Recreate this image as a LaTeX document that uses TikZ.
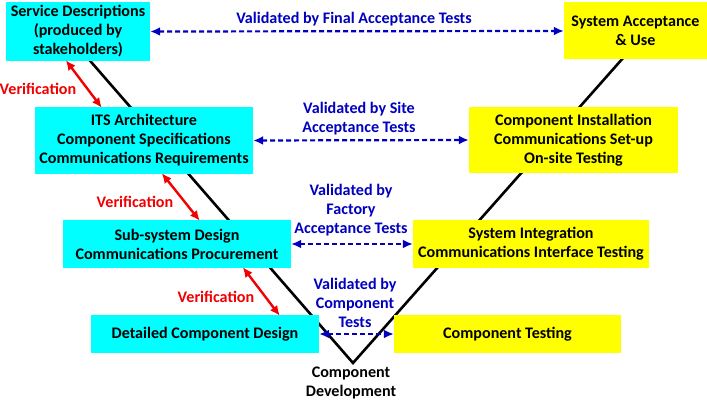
\documentclass[tikz,border=0pt]{standalone}
\usepackage{fontspec}
\setmainfont{Carlito}
\usetikzlibrary{arrows.meta}

\definecolor{boxcyan}{RGB}{0,255,255}
\definecolor{boxyellow}{RGB}{255,255,0}
\definecolor{valblue}{RGB}{0,0,190}
\definecolor{verred}{RGB}{240,0,0}

\begin{document}
\begin{tikzpicture}[x=1pt,y=-1pt,
  font=\fontsize{16.1}{19}\selectfont\bfseries,
  design/.style={fill=boxcyan, align=center, inner sep=0pt},
  testing/.style={fill=boxyellow, align=center, inner sep=0pt},
  valid/.style={valblue, line width=2.2pt, dash pattern=on 5pt off 3pt,
    {Latex[length=10pt,width=9pt]}-{Latex[length=10pt,width=9pt]}},
  verif/.style={verred, line width=2.4pt,
    {Latex[length=10pt,width=9pt]}-{Latex[length=10pt,width=9pt]}},
  vtext/.style={valblue, align=center},
  ]
\useasboundingbox (0,0) rectangle (707,401);

% The V
\coordinate (vleft) at (72,40);
\coordinate (vtx) at (353,363);
\coordinate (vright) at (639,40);
\draw[line width=2.6pt] (vleft) -- (vtx) -- (vright);
\node[align=center] (dev) at (351,383) {Component\\Development};

% Design side
\node[design, minimum width=144pt, minimum height=59pt] (sd) at (78,31.5)
  {Service Descriptions\\(produced by\\stakeholders)};
\node[design, minimum width=218pt, minimum height=67pt] (its) at (144,140.5)
  {ITS Architecture\\Component Specifications\\Communications Requirements};
\node[design, minimum width=228pt, minimum height=48pt] (ssd) at (177,244)
  {Sub-system Design\\Communications Procurement};
\node[design, minimum width=228pt, minimum height=38pt] (dcd) at (205,334)
  {Detailed Component Design};

% Testing side
\node[testing, minimum width=143pt, minimum height=57pt] (sau) at (635.5,31)
  {System Acceptance\\\& Use};
\node[testing, minimum width=209pt, minimum height=66pt] (ci) at (573.5,140)
  {Component Installation\\Communications Set-up\\On-site Testing};
\node[testing, minimum width=236pt, minimum height=48pt] (si) at (531,244)
  {System Integration\\Communications Interface Testing};
\node[testing, minimum width=227pt, minimum height=38pt] (ct) at (507.5,334)
  {Component Testing};

% Validation
\draw[valid] (sd.east) -- (sau.west);
\draw[valid] (its.east) -- (ci.west);
\draw[valid] (ssd.east) -- (si.west);
\draw[valid] (dcd.east) -- (ct.west);
\node[vtext] (val1) at (354,19) {Validated by Final Acceptance Tests};
\node[vtext] (val2) at (359,118.5) {Validated by Site\\Acceptance Tests};
\node[vtext] (val3) at (351,210) {Validated by\\Factory\\Acceptance Tests};
\node[vtext] (val4) at (355,302.5) {Validated by\\Component\\Tests};

% Verification
\draw[verif] ([xshift=60pt,yshift=1pt]sd.south west) -- ([xshift=67pt,yshift=-1pt]its.north west);
\draw[verif] ([xshift=127pt,yshift=1pt]its.south west) -- ([xshift=137pt,yshift=-1pt]ssd.north west);
\draw[verif] ([xshift=180pt,yshift=1pt]ssd.south west) -- ([xshift=189pt,yshift=-1pt]dcd.north west);
\node[verred] (ver1) at (38,89) {Verification};
\node[verred] (ver2) at (135,202) {Verification};
\node[verred] (ver3) at (216,297) {Verification};

\end{tikzpicture}
\end{document}
